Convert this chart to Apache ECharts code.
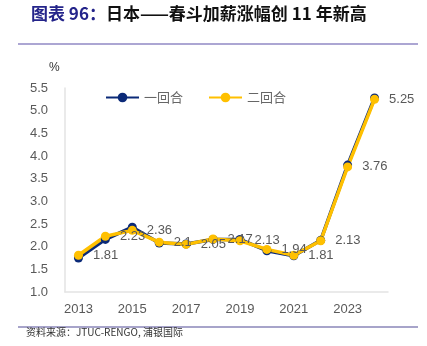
<!DOCTYPE html>
<html><head><meta charset="utf-8">
<script src="https://cdn.jsdelivr.net/npm/echarts@6/dist/echarts.min.js"></script>
<style>html,body{margin:0;padding:0;background:#fff}#c{width:427px;height:346px}</style>
</head><body><div id="c"></div>
<script>
var years = ['2013','2014','2015','2016','2017','2018','2019','2020','2021','2022','2023','2024'];
var round1 = [1.75, 2.16, 2.43, 2.08, 2.06, 2.16, 2.16, 1.91, 1.80, 2.14, 3.80, 5.28];
var round2 = [1.81, 2.23, 2.36, 2.10, 2.05, 2.17, 2.13, 1.94, 1.81, 2.13, 3.76, 5.25];
var seriesNames = ['一回合', '二回合'];

var chart = echarts.init(document.getElementById('c'), null, {renderer: 'canvas'});
var cjk = '"Noto Sans CJK SC", sans-serif';
var lat = '"Liberation Sans", "Noto Sans", sans-serif';
chart.setOption({
  animation: false,
  backgroundColor: '#fff',
  title: {
    left: 26, top: 0,
    text: '{a|图表 96：}{b|日本——春斗加薪涨幅创 11 年新高}',
    textStyle: {
      rich: {
        a: {fontFamily: cjk, fontSize: 17, fontWeight: 'bold', color: '#24248a'},
        b: {fontFamily: cjk, fontSize: 17, fontWeight: 'bold', color: '#111'}
      }
    }
  },
  graphic: [
    {type: 'line', shape: {x1: 18, y1: 44, x2: 418, y2: 44}, style: {stroke: '#9088c4', lineWidth: 1.5}},
    {type: 'line', shape: {x1: 18, y1: 327, x2: 418, y2: 327}, style: {stroke: '#8a86b8', lineWidth: 1.5}},
    {type: 'text', left: 26, top: 327, style: {text: '资料来源：JTUC-RENGO, 浦银国际', fontFamily: cjk, fontSize: 10, fill: '#333'}},
    {type: 'text', left: 49, top: 62, style: {text: '%', fontFamily: lat, fontSize: 12, fill: '#333'}}
  ],
  legend: {
    left: 100, top: 86,
    itemWidth: 33, itemHeight: 12, itemGap: 25,
    textStyle: {fontFamily: cjk, fontSize: 13, color: '#666'},
    data: seriesNames
  },
  grid: {left: 65, right: 39, top: 88, bottom: 54},
  xAxis: {
    type: 'category', data: years, boundaryGap: true,
    axisLine: {lineStyle: {color: '#e3e3e3', width: 1.5}},
    axisTick: {show: false},
    axisLabel: {interval: 1, color: '#595959', fontFamily: lat, fontSize: 13, margin: 11}
  },
  yAxis: {
    type: 'value', min: 1, max: 5.5, interval: 0.5,
    axisLine: {show: true, lineStyle: {color: '#e3e3e3', width: 1.5}},
    axisTick: {show: false},
    splitLine: {show: false},
    axisLabel: {color: '#595959', fontFamily: lat, fontSize: 13, margin: 17, formatter: function (v) { return v.toFixed(1); }}
  },
  series: [
    {
      name: seriesNames[0], type: 'line', data: round1,
      symbol: 'circle', symbolSize: 9,
      itemStyle: {color: '#0b2a78'},
      lineStyle: {color: '#0b2a78', width: 3.5}
    },
    {
      name: seriesNames[1], type: 'line', data: round2,
      symbol: 'circle', symbolSize: 9,
      itemStyle: {color: '#ffc000'},
      lineStyle: {color: '#ffc000', width: 3.5},
      label: {show: true, position: 'right', distance: 10, color: '#595959', fontFamily: lat, fontSize: 13,
        formatter: function (p) { return String(p.value); }}
    }
  ]
});
</script></body></html>
